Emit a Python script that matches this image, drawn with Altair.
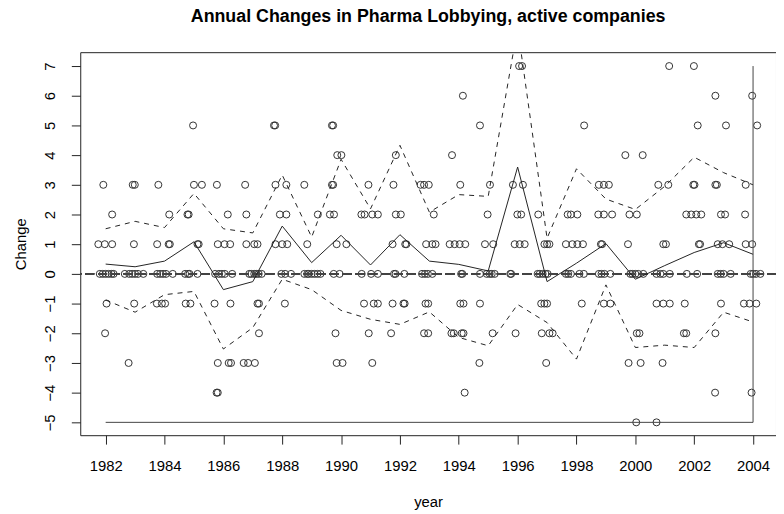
import altair as alt
import pandas as pd

# ---------------- data ----------------
years = list(range(1982, 2005))
mean_change = [0.33, 0.24, 0.43, 1.08, -0.53, -0.26, 1.61, 0.38, 1.30, 0.30, 1.32, 0.43,
               0.32, 0.10, 3.60, -0.26, 0.36, 1.02, -0.18, 0.28, 0.72, 1.05, 0.66]
upper_band = [1.52, 1.77, 1.56, 2.71, 1.52, 1.38, 3.33, 1.24, 3.86, 2.19, 4.33, 2.08,
              2.67, 2.61, 8.30, 1.20, 3.54, 2.52, 2.17, 2.95, 3.93, 3.41, 3.00]
lower_band = [-0.88, -1.29, -0.70, -0.59, -2.53, -1.81, -0.18, -0.53, -1.23, -1.53, -1.70, -1.28,
              -2.14, -2.42, -1.03, -1.64, -2.87, -0.37, -2.48, -2.40, -2.48, -1.29, -1.62]

frame_x = [1982, 2004, 2004]
frame_y = [-5, -5, 7]

x_ticks = list(range(1982, 2005, 2))
y_ticks = list(range(-5, 8))

# jittered year positions of the company points, by change value
yr_p7 = [1996.05, 1996.15, 2001.15, 2001.99]
yr_p6 = [1994.14, 2002.72, 2003.97]
yr_p5 = [1984.97, 1987.72, 1987.76, 1989.69, 1989.73, 1994.72, 1998.26, 2002.12, 2003.08, 2004.14]
yr_p4 = [1989.87, 1990.01, 1991.86, 1993.77, 1999.66, 2000.25]
yr_p3 = [1981.92, 1982.92, 1982.99, 1983.79, 1985.0, 1985.27, 1985.78, 1986.74, 1987.77, 1988.14,
         1988.75, 1989.69, 1989.73, 1990.93, 1991.78, 1992.70, 1992.82, 1992.98, 1994.05, 1995.06,
         1995.84, 1996.18, 1998.76, 1998.93, 1999.1, 2000.78, 2001.12, 2001.97, 2002.01, 2002.72,
         2002.77, 2003.75]
yr_p2 = [1982.22, 1984.16, 1984.78, 1984.82, 1986.15, 1986.78, 1987.92, 1988.14, 1989.21, 1989.62,
         1989.76, 1990.69, 1990.80, 1991.06, 1991.25, 1991.86, 1992.03, 1993.15, 1994.98, 1995.99,
         1996.12, 1996.70, 1997.70, 1997.81, 1998.03, 1998.74, 1998.93, 1999.21, 1999.80, 2000.05,
         2001.73, 2001.90, 2002.07, 2002.24, 2002.91, 2003.05, 2003.73]
yr_p1 = [1981.75, 1981.97, 1982.22, 1982.96, 1983.75, 1984.14, 1984.18, 1985.12, 1985.16, 1985.81,
         1986.04, 1986.23, 1986.78, 1987.05, 1987.16, 1987.77, 1988.0, 1988.17, 1988.85, 1989.85,
         1990.18, 1991.75, 1992.18, 1992.22, 1992.89, 1993.1, 1993.21, 1993.69, 1993.86, 1994.03,
         1994.22, 1994.89, 1995.17, 1995.90, 1996.07, 1996.24, 1996.91, 1997.0, 1997.08, 1997.64,
         1997.86, 1998.03, 1998.22, 1998.83, 1998.87, 1999.75, 2000.95, 2001.04, 2002.16, 2002.2,
         2002.80, 2002.96, 2003.19, 2003.75, 2003.97]
yr_p0 = [1981.8, 1981.9, 1982.0, 1982.1, 1982.2, 1982.27,
         1982.65, 1982.8, 1982.9, 1983.0, 1983.1, 1983.28,
         1983.75, 1983.85, 1983.95, 1984.05, 1984.28,
         1984.7, 1984.8, 1984.85, 1985.12,
         1985.72, 1985.85, 1985.95, 1986.05, 1986.3,
         1986.88, 1986.95, 1987.05, 1987.12, 1987.2, 1987.3,
         1987.97, 1988.1, 1988.3,
         1988.75, 1988.85, 1988.9, 1989.0, 1989.1, 1989.2, 1989.3,
         1989.75, 1989.95,
         1990.7, 1991.02, 1991.25,
         1991.8, 1991.85, 1992.15,
         1992.75, 1992.85, 1992.95, 1993.1,
         1994.08, 1994.12,
         1994.72, 1994.95, 1995.05, 1995.12, 1995.22,
         1995.75, 1995.78,
         1996.68, 1996.75, 1996.85, 1996.95, 1997.02,
         1997.64, 1997.72, 1997.81, 1998.1, 1998.25,
         1998.76, 1998.85, 1998.95, 1999.15,
         1999.83, 1999.9, 2000.0, 2000.1, 2000.27,
         2000.72, 2000.85, 2000.95, 2001.17,
         2001.75, 2002.1,
         2002.8, 2002.9, 2003.0, 2003.24,
         2003.92, 2004.0, 2004.1, 2004.25]
yr_m1 = [1982.03, 1982.97, 1983.74, 1983.91, 1984.02, 1984.72, 1984.88, 1985.70, 1986.24, 1987.16,
         1987.21, 1988.09, 1990.78, 1991.11, 1991.25, 1991.75, 1992.12, 1992.16, 1992.87, 1992.96,
         1994.05, 1994.16, 1994.72, 1996.80, 1996.91, 1997.0, 1998.18, 1998.93, 1999.15, 2000.72,
         2000.95, 2001.17, 2001.68, 2002.91, 2003.69, 2003.88, 2004.11]
yr_m2 = [1981.98, 1987.21, 1989.81, 1990.94, 1991.7, 1992.82, 1992.96, 1993.75, 1993.83, 1994.1,
         1994.16, 1995.15, 1995.93, 1996.82, 1997.08, 1997.19, 2000.05, 2000.14, 2001.65, 2001.73,
         2002.72]
yr_m3 = [1982.78, 1985.81, 1986.18, 1986.26, 1986.69, 1986.84, 1987.07, 1989.85, 1990.05, 1991.06,
         1994.70, 1996.97, 1999.77, 2000.18, 2000.925]
yr_m4 = [1985.77, 1985.81, 1994.2, 2002.71, 2003.95]
yr_m5 = [2000.03, 2000.72]

groups = [(7, yr_p7), (6, yr_p6), (5, yr_p5), (4, yr_p4), (3, yr_p3), (2, yr_p2), (1, yr_p1),
          (0, yr_p0), (-1, yr_m1), (-2, yr_m2), (-3, yr_m3), (-4, yr_m4), (-5, yr_m5)]

pts = pd.DataFrame([{"year": yv, "change": c} for c, ys in groups for yv in ys])
summ = pd.DataFrame({"year": years, "mean": mean_change, "upper": upper_band, "lower": lower_band})
frame = pd.DataFrame({"year": frame_x, "change": frame_y, "order": [0, 1, 2]})

# ---------------- chart ----------------
FONT = "Liberation Sans"
INK = "#222222"

xscale = alt.Scale(domain=[1981.136, 2004.78], nice=False, zero=False)
yscale = alt.Scale(domain=[-5.433, 7.467], nice=False, zero=False)

xaxis = alt.Axis(values=x_ticks, tickCount=len(x_ticks), format="d", title="year", grid=False,
                 domain=False, tickSize=9, tickColor=INK, labelFontSize=15, labelPadding=15,
                 labelColor="#000", labelFlush=False, labelOverlap=False,
                 titleFontSize=15, titleFontWeight="normal", titleColor="#000",
                 titleBaseline="alphabetic", titlePadding=33)
yaxis = alt.Axis(values=y_ticks, tickCount=len(y_ticks), format="d", title="Change", grid=False,
                 domain=False, tickSize=9, tickColor=INK, labelFontSize=15, labelAngle=270,
                 labelAlign="center", labelBaseline="alphabetic", labelPadding=17,
                 labelColor="#000", labelFlush=False, labelOverlap=False,
                 titleFontSize=15, titleFontWeight="normal", titleColor="#000",
                 titleBaseline="alphabetic", titlePadding=17)


def X(field):
    return alt.X(field, type="quantitative", scale=xscale, axis=xaxis)


def Y(field):
    return alt.Y(field, type="quantitative", scale=yscale, axis=yaxis)


points = alt.Chart(pts).mark_point(shape="circle", filled=False, size=50, strokeWidth=1,
                                   color="#333333", opacity=1).encode(
    x=X("year"), y=Y("change")
)

zero = alt.Chart(summ).mark_rule(color="#444444", strokeWidth=1, strokeDash=[9, 4]).encode(
    y=alt.datum(0)
)

mean_line = alt.Chart(summ).mark_line(color=INK, strokeWidth=1, clip=True).encode(
    x=X("year"), y=Y("mean")
)
upper_line = alt.Chart(summ).mark_line(color=INK, strokeWidth=1, strokeDash=[5, 5], clip=True).encode(
    x=X("year"), y=Y("upper")
)
lower_line = alt.Chart(summ).mark_line(color=INK, strokeWidth=1, strokeDash=[5, 5], clip=True).encode(
    x=X("year"), y=Y("lower")
)
frame_line = alt.Chart(frame).mark_line(color="#444444", strokeWidth=1, clip=True).encode(
    x=X("year"), y=Y("change"), order="order:Q"
)

chart = alt.layer(points, zero, mean_line, upper_line, lower_line, frame_line).properties(
    width=703,
    height=387,
    autosize=alt.AutoSizeParams(type="none"),
    padding={"left": 73, "top": 42, "right": 0, "bottom": 80},
    title=alt.TitleParams("Annual Changes in Pharma Lobbying, active companies",
                          font=FONT, fontSize=18, fontWeight="bold", color="#000",
                          anchor="middle", baseline="alphabetic", offset=13),
).configure(font=FONT).configure_view(stroke=INK, strokeWidth=1)

chart.save("out.html", embed_options={"renderer": "svg", "actions": False})
